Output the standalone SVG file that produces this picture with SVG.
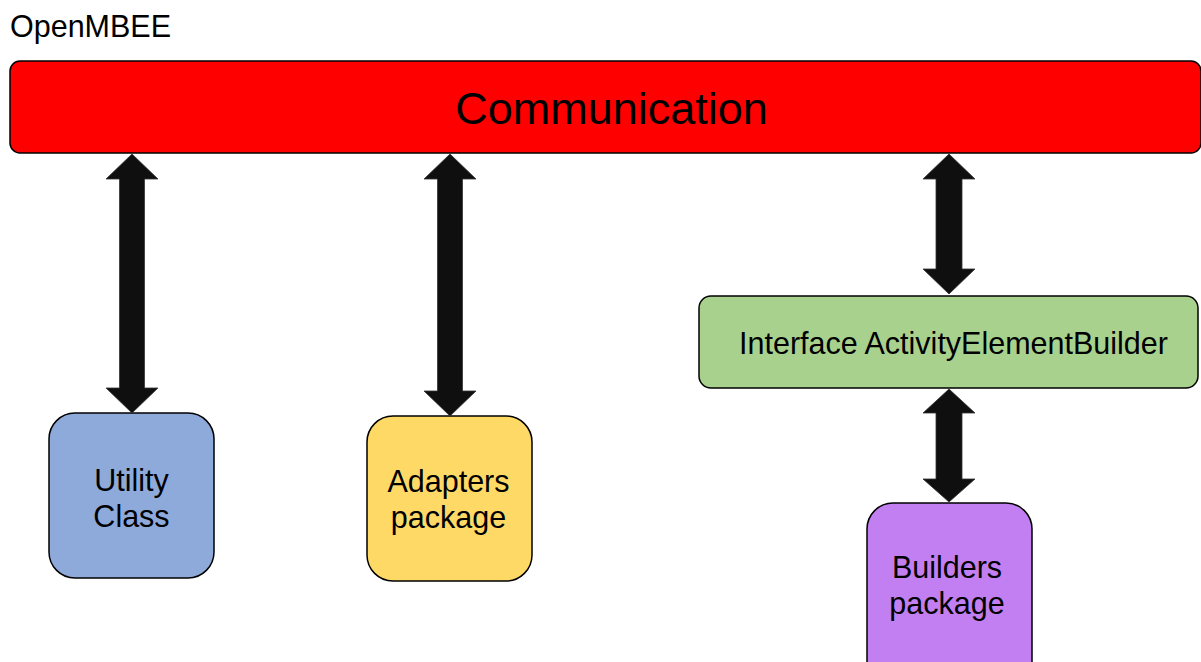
<svg xmlns="http://www.w3.org/2000/svg" width="1201" height="662" viewBox="0 0 1201 662">
  <style>
    .box { stroke: #000; stroke-width: 1.5; }
    .lbl { font-family: "Liberation Sans", Arial, sans-serif; fill: #000; text-anchor: middle; font-size: 30.5px; }
    .arrow { fill: #0f0f0f; stroke: #333; stroke-width: 0.8; }
  </style>
  <rect width="1201" height="662" fill="#fff"/>

  <text x="10" y="37" class="lbl" style="text-anchor:start">OpenMBEE</text>

  <g id="communication">
    <rect class="box" x="10" y="61" width="1191" height="92" rx="10" fill="#ff0000"/>
    <text x="611.5" y="124" class="lbl" style="font-size:45px">Communication</text>
  </g>

  <g id="utility">
    <rect class="box" x="49" y="413" width="165" height="165" rx="26" fill="#8eaadb"/>
    <text x="131.5" y="491" class="lbl">Utility</text>
    <text x="131.5" y="527" class="lbl">Class</text>
  </g>

  <g id="adapters">
    <rect class="box" x="367" y="416" width="165" height="165" rx="26" fill="#ffd966"/>
    <text x="448.5" y="492" class="lbl">Adapters</text>
    <text x="448.5" y="528" class="lbl">package</text>
  </g>

  <g id="interface">
    <rect class="box" x="699" y="296" width="499" height="92" rx="12" fill="#a9d18e"/>
    <text x="953.5" y="354" class="lbl">Interface ActivityElementBuilder</text>
  </g>

  <g id="builders">
    <rect class="box" x="867" y="503" width="165" height="190" rx="26" fill="#c27ff2"/>
    <text x="947" y="578" class="lbl">Builders</text>
    <text x="947" y="614" class="lbl">package</text>
  </g>

  <!-- double-headed block arrows: 26px head half-width, 25px head length, 25px shaft -->
  <g id="connectors">
    <!-- Communication <-> Utility Class -->
    <path class="arrow" d="M132 154 L158 179 L144.5 179 L144.5 388 L158 388 L132 413 L106 388 L119.5 388 L119.5 179 L106 179 Z"/>
    <!-- Communication <-> Adapters package -->
    <path class="arrow" d="M450 154 L476 179 L462.5 179 L462.5 391 L476 391 L450 416 L424 391 L437.5 391 L437.5 179 L424 179 Z"/>
    <!-- Communication <-> Interface -->
    <path class="arrow" d="M949 154 L975 179 L962 179 L962 269 L975 269 L949 294 L923 269 L936 269 L936 179 L923 179 Z"/>
    <!-- Interface <-> Builders package -->
    <path class="arrow" d="M949 389 L975 413 L962 413 L962 479 L975 479 L949 502 L923 479 L936 479 L936 413 L923 413 Z"/>
  </g>
</svg>
